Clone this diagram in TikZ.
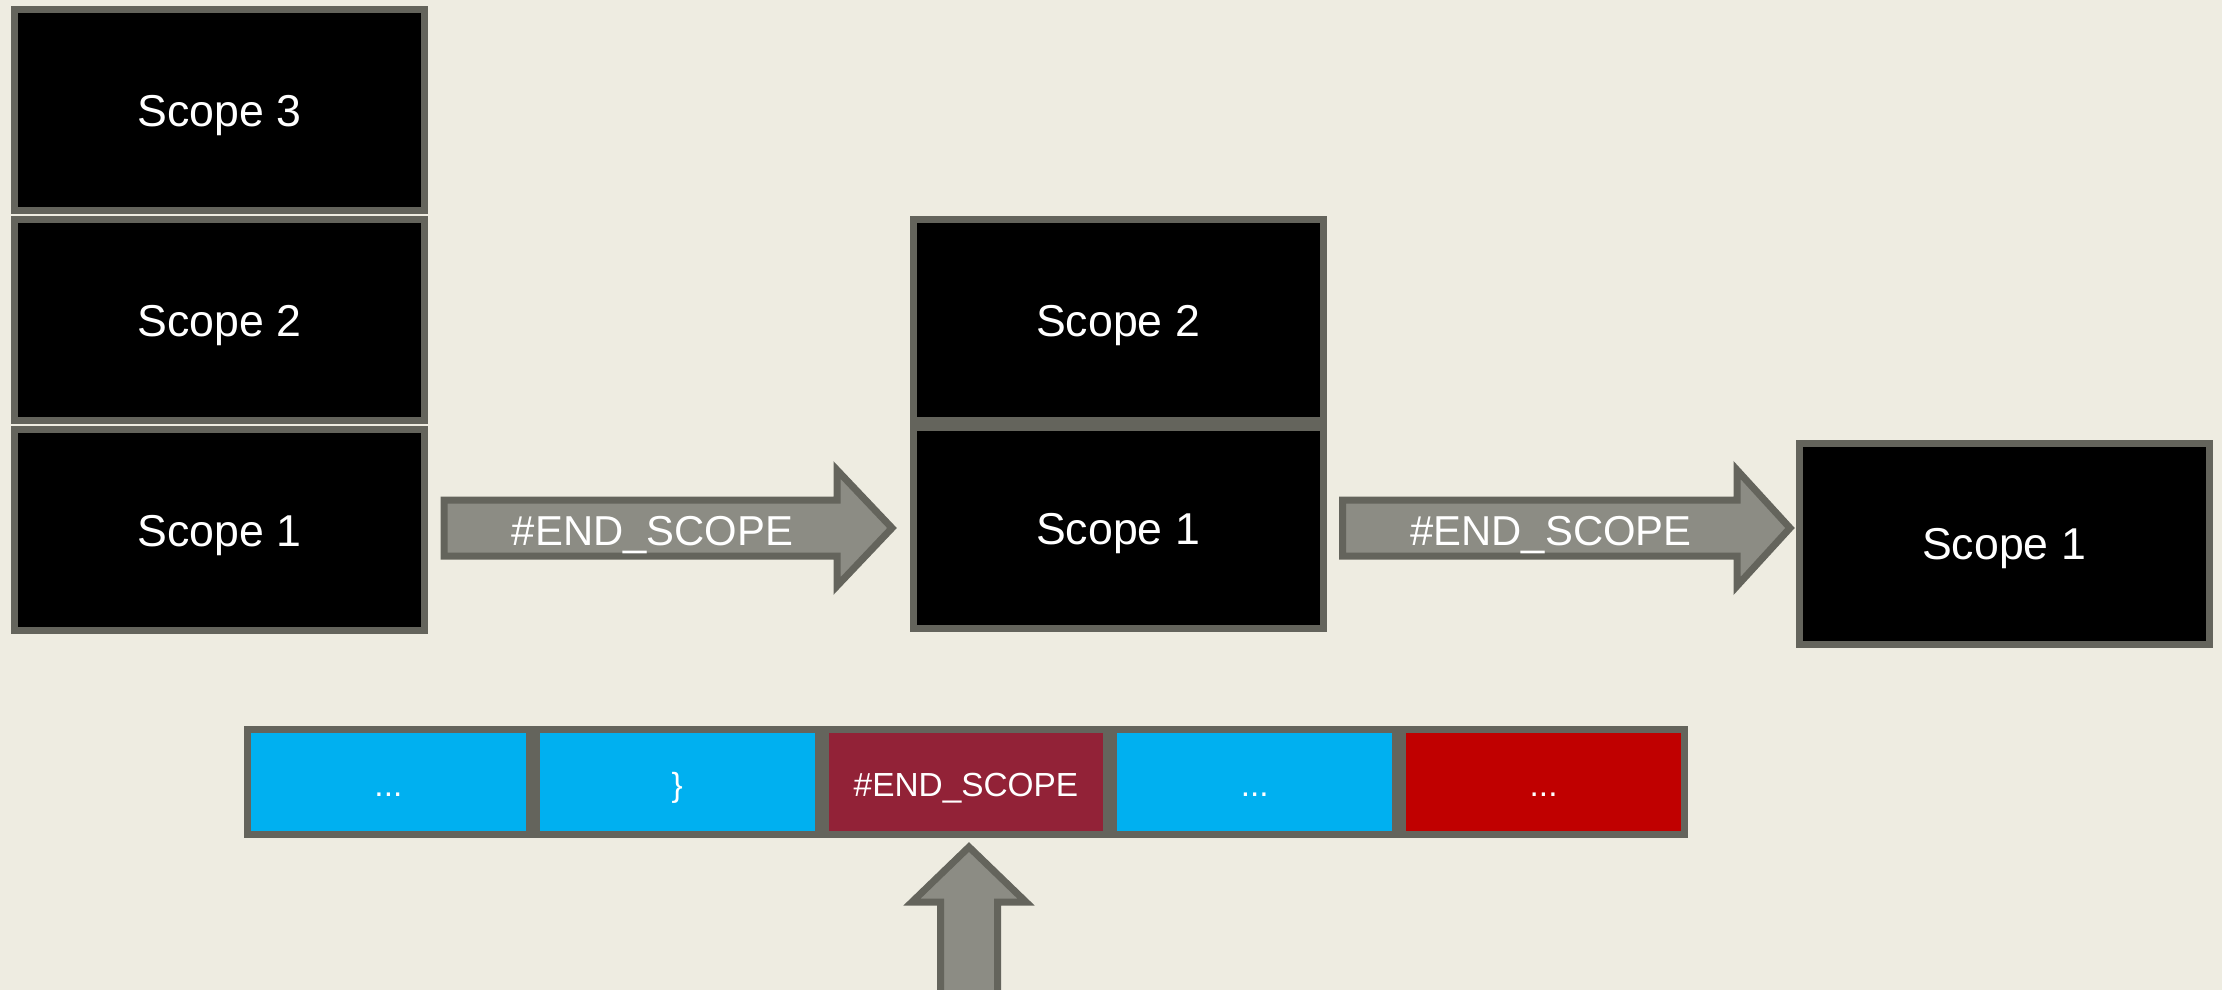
\documentclass[tikz,border=0pt]{standalone}
\usepackage{fontspec}
\setmainfont{Liberation Sans}
\usetikzlibrary{positioning}

\definecolor{slidebg}{HTML}{EEECE1}
\definecolor{edgegray}{HTML}{64645C}
\definecolor{arrowgray}{HTML}{8C8C84}
\definecolor{cellblue}{HTML}{00B0F0}
\definecolor{cellwine}{HTML}{922237}
\definecolor{cellred}{HTML}{C00000}

\begin{document}
\begin{tikzpicture}[
    scopebox/.style={draw=edgegray, fill=black, text=white, line width=0.07cm,
      minimum width=4.10cm, minimum height=2.01cm, inner sep=0pt,
      font=\fontsize{12.7}{15}\selectfont, text height=0.32cm, text depth=0pt},
    cellbox/.style={draw=edgegray, text=white, line width=0.07cm,
      minimum width=2.818cm, minimum height=1.05cm, inner sep=0pt,
      font=\fontsize{9.5}{11}\selectfont, text height=0.30cm, text depth=0.02cm},
    blockarrow/.style={draw=edgegray, fill=arrowgray, line width=0.07cm},
    arrowtext/.style={text=white, inner sep=0pt,
      font=\fontsize{11.9}{14}\selectfont, text height=0.30cm, text depth=0pt}]
  \clip (0,0) rectangle (22.22,-9.90);
  \fill[slidebg] (0,0) rectangle (22.22,-9.90) ;  %Slide background

  \node[scopebox] (lthree) at (2.195,-1.10) {Scope 3};  %Left stack
  \node[scopebox, below=0.02cm of lthree] (ltwo) {Scope 2};
  \node[scopebox, below=0.02cm of ltwo] (lone) {Scope 1};

  \node[scopebox] (mtwo) at (11.18,-3.20) {Scope 2};  %Middle stack
  \node[scopebox, below=0cm of mtwo] (mone) {Scope 1};

  \node[scopebox] (rone) at (20.04,-5.435) {Scope 1};  %Right stack

  \draw[blockarrow] (4.44,-5.00) -- (8.37,-5.00) -- (8.37,-4.70) -- (8.92,-5.28)
    -- (8.37,-5.86) -- (8.37,-5.56) -- (4.44,-5.56) -- cycle ;  %First pop
  \node[arrowtext] (popone) at (6.525,-5.30) {\#END\_SCOPE};

  \draw[blockarrow] (13.425,-5.00) -- (17.37,-5.00) -- (17.37,-4.70) -- (17.90,-5.28)
    -- (17.37,-5.86) -- (17.37,-5.56) -- (13.425,-5.56) -- cycle ;  %Second pop
  \node[arrowtext] (poptwo) at (15.51,-5.30) {\#END\_SCOPE};

  \node[cellbox, fill=cellblue] (cone) at (3.884,-7.82) {...};  %Token stream
  \node[cellbox, fill=cellblue, right=0cm of cone] (ctwo) {\}};
  \node[cellbox, fill=cellwine, right=0cm of ctwo] (cthree) {\#END\_SCOPE};
  \node[cellbox, fill=cellblue, right=0cm of cthree] (cfour) {...};
  \node[cellbox, fill=cellred, right=0cm of cfour] (cfive) {...};

  \draw[blockarrow] (9.405,-10.20) -- (9.405,-9.02) -- (9.12,-9.02) -- (9.69,-8.47)
    -- (10.26,-9.02) -- (9.975,-9.02) -- (9.975,-10.20) -- cycle ;  %Read pointer
\end{tikzpicture}
\end{document}
